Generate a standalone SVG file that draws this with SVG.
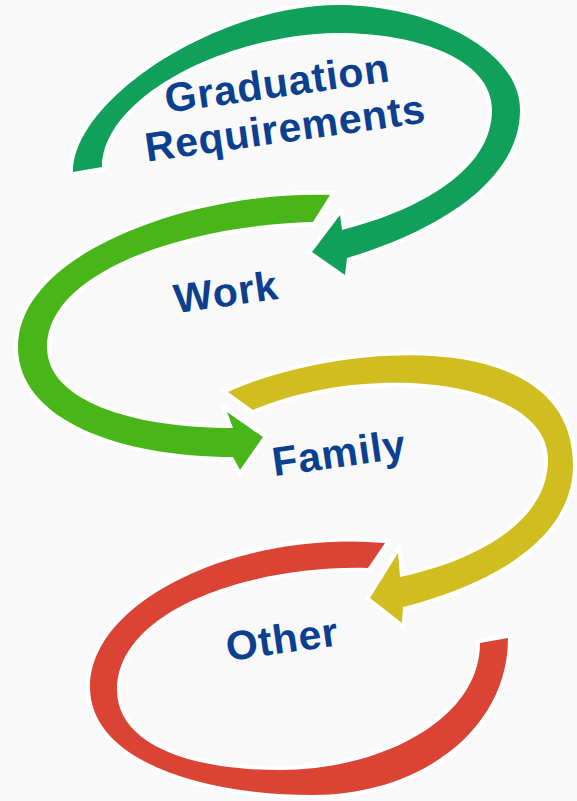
<svg xmlns="http://www.w3.org/2000/svg" width="577" height="801" viewBox="0 0 577 801">
  <style>
    .arc { stroke: #ffffff; stroke-width: 8; stroke-linejoin: miter; paint-order: stroke; }
    .lbl { font-family: "Liberation Sans", Arial, sans-serif; font-weight: bold; font-size: 41px; fill: #0B3F8F; letter-spacing: 0.8px; text-anchor: middle; }
  </style>
  <rect width="577" height="801" fill="#F9F9F9"/>
  <g id="connectors">
    <path id="arc-graduation" class="arc" fill="#10A05A" d="M102,167 L73,172 C73,100 215,6 337,5 C430,5 520,50 520,110 C520,180 440,230 347,258 L345,275 L312,252 L340,215 L342,230 C420,210 492,170 492,110 C492,60 420,33 337,33 C220,35 102,100 102,167 Z"/>
    <path id="arc-work" class="arc" fill="#48B619" d="M330,195 C200,190 18,250 18,347 C18,420 120,457 233,457 L240,470 L263,437 L227,412 L233,428 C130,428 47,400 47,347 C47,270 190,225 313,222 Z"/>
    <path id="arc-family" class="arc" fill="#D0BD20" d="M228,392 C330,345 573,320 573,465 C573,540 490,585 403,607 L402,623 L370,598 L398,553 L400,577 C480,560 548,520 548,460 C548,380 370,360 253,410 Z"/>
    <path id="arc-other" class="arc" fill="#DB4434" d="M385,543 C240,530 90,600 90,687 C90,760 200,795 313,795 C420,795 508,730 508,638 L480,643 C480,720 380,770 280,770 C180,770 117,740 117,690 C117,610 250,565 368,568 Z"/>
  </g>
  <g id="node-graduation">
    <text class="lbl" transform="translate(279,97) rotate(-8)">Graduation</text>
    <text class="lbl" transform="translate(287,142) rotate(-8)">Requirements</text>
  </g>
  <g id="node-work">
    <text class="lbl" transform="translate(228,306) rotate(-8)">Work</text>
  </g>
  <g id="node-family">
    <text class="lbl" transform="translate(341,467) rotate(-8)">Family</text>
  </g>
  <g id="node-other">
    <text class="lbl" transform="translate(284,653) rotate(-8)">Other</text>
  </g>
</svg>
